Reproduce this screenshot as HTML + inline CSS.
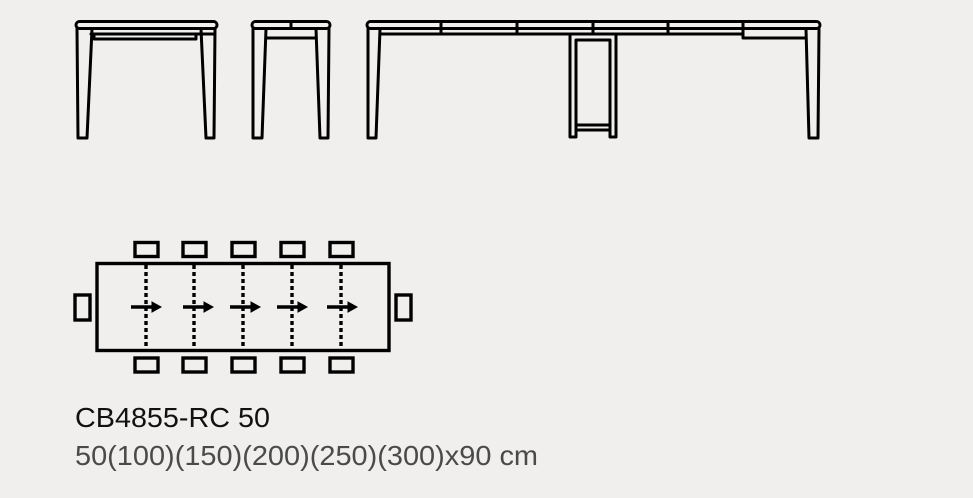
<!DOCTYPE html>
<html><head><style>
html,body{margin:0;padding:0;background:#f0efee;}
svg{display:block}
</style></head><body>
<svg width="973" height="498" viewBox="0 0 973 498" xmlns="http://www.w3.org/2000/svg">
<rect width="973" height="498" fill="#f0efee"/>
<g fill="none" stroke="#000" stroke-width="3" stroke-linejoin="round" stroke-linecap="round">
<!-- Table 1 -->
<rect x="76" y="21.5" width="141" height="7" rx="3.5"/>
<line x1="91" y1="34" x2="213" y2="34"/>
<path d="M94 35 V39 H196 V35"/>
<path d="M77 29 L78 138 H87 L92 29"/>
<path d="M201 29 L206 138 H214 L215 29"/>
<!-- Table 2 -->
<rect x="252" y="21.5" width="78" height="7" rx="3.5"/>
<line x1="291" y1="22" x2="291" y2="28"/>
<line x1="266" y1="38" x2="316" y2="38"/>
<path d="M253 29 L253 138 H262 L266 29"/>
<path d="M316 29 L320 138 H328 L329 29"/>
<!-- Table 3 -->
<rect x="367" y="21.5" width="453" height="7" rx="3.5"/>
<line x1="380" y1="34" x2="743" y2="34"/>
<path d="M743 28 V38 H806"/>
<line x1="441" y1="22" x2="441" y2="34"/>
<line x1="517" y1="22" x2="517" y2="34"/>
<line x1="593" y1="22" x2="593" y2="34"/>
<line x1="668" y1="22" x2="668" y2="34"/>
<line x1="743" y1="22" x2="743" y2="34"/>
<path d="M368 29 L368 138 H376 L380 29"/>
<path d="M806 29 L809 138 H818 L819 29"/>
<path d="M570 36 V137 H576 V40 H610 V137 H616 V36"/>
<line x1="576" y1="125" x2="610" y2="125"/>
<line x1="576" y1="130" x2="610" y2="130"/>
</g>
<!-- Plan -->
<g fill="none" stroke="#000" stroke-width="3.4">
<rect x="97" y="263.5" width="292" height="87"/>
<rect x="75" y="295" width="15" height="25"/>
<rect x="396" y="295" width="15" height="25"/>
<g id="ch">
<rect x="135" y="242.5" width="23" height="14"/>
<rect x="135" y="358" width="23" height="14"/>
</g>
<use href="#ch" x="48"/>
<use href="#ch" x="97"/>
<use href="#ch" x="146"/>
<use href="#ch" x="195"/>
</g>
<g stroke="#000" stroke-width="3.4" stroke-dasharray="4 3">
<line x1="146" y1="265" x2="146" y2="349"/>
<line x1="194" y1="265" x2="194" y2="349"/>
<line x1="243" y1="265" x2="243" y2="349"/>
<line x1="292" y1="265" x2="292" y2="349"/>
<line x1="341" y1="265" x2="341" y2="349"/>
</g>
<g stroke="#000" stroke-width="3.4" fill="#000">
<g id="ar"><line x1="131" y1="307" x2="154" y2="307"/><path d="M152 302 L161 307 L152 312 Z" stroke-width="1"/></g>
<use href="#ar" x="52"/>
<use href="#ar" x="99"/>
<use href="#ar" x="146"/>
<use href="#ar" x="196"/>
</g>
<text x="75" y="427" font-family="Liberation Sans, sans-serif" font-size="28" fill="#111" textLength="195" lengthAdjust="spacingAndGlyphs">CB4855-RC 50</text>
<text x="75" y="465" font-family="Liberation Sans, sans-serif" font-size="28" fill="#4a4a4a" textLength="463" lengthAdjust="spacingAndGlyphs">50(100)(150)(200)(250)(300)x90 cm</text>
</svg>
</body></html>
